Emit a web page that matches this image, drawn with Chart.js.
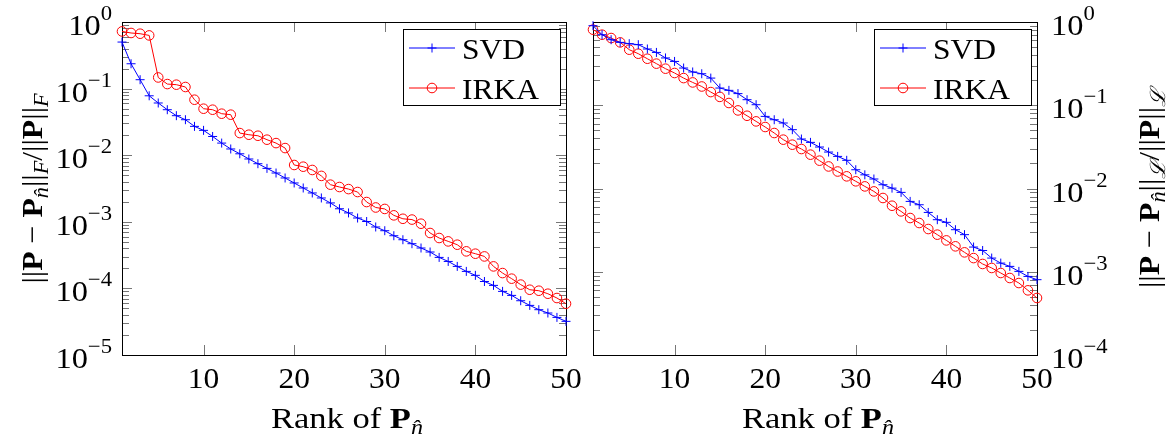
<!DOCTYPE html>
<html>
<head>
<meta charset="utf-8">
<script src="https://cdn.jsdelivr.net/npm/chart.js@4.4.0/dist/chart.umd.min.js"></script>
<style>
html, body { margin: 0; padding: 0; background: #fff; }
#wrap { position: relative; width: 1171px; height: 436px; }
canvas { position: absolute; left: 0; top: 0; }
</style>
</head>
<body>
<div id="wrap">
  <canvas id="leftChart" width="1171" height="436"></canvas>
  <canvas id="rightChart" width="1171" height="436"></canvas>
</div>
<script>
// rank axis (1..50)
const ranks = [1,2,3,4,5,6,7,8,9,10,11,12,13,14,15,16,17,18,19,20,21,22,23,24,25,
  26,27,28,29,30,31,32,33,34,35,36,37,38,39,40,41,42,43,44,45,46,47,48,49,50];

// left plot: relative Frobenius error
const leftSvd = [0.50, 0.236, 0.136, 0.078, 0.0608, 0.0482, 0.0392, 0.0341, 0.0271, 0.0236,
  0.0191, 0.0152, 0.0124, 0.0105, 0.00877, 0.00745, 0.00634, 0.0054, 0.00455, 0.00383,
  0.00322, 0.00271, 0.00228, 0.00192, 0.00157, 0.00136, 0.00114, 0.00101, 0.000836, 0.000735,
  0.000618, 0.000538, 0.000469, 0.000404, 0.000352, 0.000292, 0.000254, 0.000214, 0.00018, 0.000157,
  0.000127, 0.000111, 9.02e-5, 7.85e-5, 6.53e-5, 5.56e-5, 4.79e-5, 4.27e-5, 3.67e-5, 3.2e-5];
const leftIrka = [0.722, 0.684, 0.667, 0.629, 0.147, 0.117, 0.1145, 0.1057, 0.0681, 0.0499,
  0.0482, 0.042, 0.0406, 0.0215, 0.0203, 0.0196, 0.0171, 0.0152, 0.0128, 0.00713,
  0.00672, 0.006, 0.00489, 0.00361, 0.00333, 0.0031, 0.0028, 0.00198, 0.00164, 0.00156,
  0.00125, 0.00111, 0.00108, 0.000936, 0.000679, 0.000571, 0.000508, 0.000453, 0.00036, 0.000332,
  0.000302, 0.000214, 0.00017, 0.00014, 0.000114, 9.55e-5, 9.23e-5, 8.32e-5, 7.17e-5, 5.89e-5];

// right plot: relative L-norm error
const rightSvd = [0.903, 0.704, 0.613, 0.569, 0.549, 0.534, 0.474, 0.431, 0.370, 0.336,
  0.280, 0.251, 0.239, 0.212, 0.161, 0.151, 0.138, 0.1166, 0.1015, 0.0735,
  0.067, 0.0612, 0.0509, 0.0393, 0.0358, 0.0315, 0.0274, 0.0243, 0.0218, 0.0168,
  0.0146, 0.013, 0.0111, 0.0101, 0.00898, 0.007, 0.00638, 0.00516, 0.00422, 0.00392,
  0.0032, 0.00279, 0.00198, 0.0018, 0.00146, 0.00127, 0.00116, 0.00101, 0.000879, 0.000803];
const rightIrka = [0.809, 0.704, 0.642, 0.569, 0.465, 0.416, 0.362, 0.316, 0.275, 0.244,
  0.212, 0.188, 0.168, 0.144, 0.126, 0.1064, 0.0867, 0.0748, 0.064, 0.0548,
  0.0464, 0.0386, 0.0336, 0.0298, 0.0255, 0.0216, 0.0184, 0.016, 0.014, 0.0122,
  0.0106, 0.00923, 0.00769, 0.00621, 0.00531, 0.00442, 0.00385, 0.00326, 0.00279, 0.00238,
  0.00202, 0.00171, 0.00146, 0.00124, 0.00111, 0.000966, 0.000841, 0.000732, 0.000598, 0.000484];

// ticks
const xTicks = [10, 20, 30, 40, 50];
const leftYExp = [0, -1, -2, -3, -4, -5];
const rightYExp = [0, -1, -2, -3, -4];

const FONT = '"Liberation Serif", "DejaVu Serif", serif';
const BLUE = 'rgb(0,0,255)';
const RED = 'rgb(255,0,0)';

function fontStr(size, style) {
  if (style === 'b') return 'bold ' + size + 'px ' + FONT;
  if (style === 'i') return 'italic ' + size + 'px ' + FONT;
  return size + 'px ' + FONT;
}

// draw a row of text pieces (with sub/superscripts); sx stretches horizontally
function drawRich(ctx, segs, x, y, align, sx) {
  sx = sx || 1;
  let total = 0;
  segs.forEach(s => { ctx.font = fontStr(s.size, s.style); total += ctx.measureText(s.t).width; });
  total *= sx;
  let cx = x;
  if (align === 'center') cx = x - total / 2;
  if (align === 'right') cx = x - total;
  ctx.save();
  ctx.translate(cx, y);
  ctx.scale(sx, 1);
  ctx.textAlign = 'left';
  ctx.textBaseline = 'alphabetic';
  let px = 0;
  segs.forEach(s => {
    ctx.font = fontStr(s.size, s.style);
    ctx.fillText(s.t, px, s.dy || 0);
    px += ctx.measureText(s.t).width;
  });
  ctx.restore();
}

function normTitle(sub) {
  const R = 30, S = 21;
  return [
    {t: '||', size: R}, {t: 'P', size: R, style: 'b'}, {t: ' − ', size: R},
    {t: 'P', size: R, style: 'b'}, {t: 'n̂', size: S, style: 'i', dy: 6},
    {t: '||', size: R}, {t: sub, size: S, style: 'i', dy: 6},
    {t: '/', size: R}, {t: '||', size: R}, {t: 'P', size: R, style: 'b'},
    {t: '||', size: R}, {t: sub, size: S, style: 'i', dy: 6}
  ];
}
const rankTitle = [
  {t: 'Rank of ', size: 30}, {t: 'P', size: 30, style: 'b'},
  {t: 'n̂', size: 21, style: 'i', dy: 6}
];

const pgfAxes = {
  id: 'pgfAxes',
  beforeDatasetsDraw(chart, args, o) {
    const {ctx, chartArea: a, scales: {x, y}} = chart;
    ctx.save();
    ctx.strokeStyle = '#777';
    ctx.lineWidth = 1;
    ctx.beginPath();
    // x ticks, bottom and top, pointing inward
    xTicks.forEach(v => {
      const px = Math.round(x.getPixelForValue(v)) + 0.5;
      ctx.moveTo(px, a.bottom); ctx.lineTo(px, a.bottom - 10);
      ctx.moveTo(px, a.top); ctx.lineTo(px, a.top + 10);
    });
    // y ticks, both sides
    o.exps.forEach(e => {
      for (let k = 1; k <= 9; k++) {
        const v = k * Math.pow(10, e);
        if (v > y.max * 1.0001 || v < y.min * 0.9999) continue;
        const py = Math.round(y.getPixelForValue(v)) + 0.5;
        const len = k === 1 ? 10 : 7;
        ctx.moveTo(a.left, py); ctx.lineTo(a.left + len, py);
        ctx.moveTo(a.right, py); ctx.lineTo(a.right - len, py);
      }
    });
    ctx.stroke();
    // frame
    ctx.strokeStyle = '#000';
    ctx.strokeRect(a.left + 0.5, a.top + 0.5, a.right - a.left, a.bottom - a.top);
    ctx.restore();
  },
  afterDraw(chart, args, o) {
    const {ctx, chartArea: a, scales: {x, y}} = chart;
    ctx.save();
    ctx.fillStyle = '#000';
    // x tick labels
    xTicks.forEach(v => drawRich(ctx, [{t: String(v), size: 30}], x.getPixelForValue(v), a.bottom + 33, 'center', 1.05));
    // y tick labels 10^e
    o.exps.forEach(e => {
      const py = y.getPixelForValue(Math.pow(10, e));
      const segs = [{t: '10', size: 30}, {t: e === 0 ? '0' : '−' + (-e), size: 21, dy: -15}];
      if (o.side === 'left') drawRich(ctx, segs, a.left - 10, py + 13, 'right', 1.08);
      else drawRich(ctx, segs, a.right + 14, py + 13, 'left', 1.08);
    });
    // axis titles
    drawRich(ctx, rankTitle, (a.left + a.right) / 2 + 3, a.bottom + 73, 'center', 1.15);
    ctx.save();
    const tx = o.side === 'left' ? 42 : 1159;
    ctx.translate(tx, (a.top + a.bottom) / 2);
    ctx.rotate(-Math.PI / 2);
    drawRich(ctx, normTitle(o.sub), 0, 0, 'center', 1.06);
    ctx.restore();
    // legend box
    const bw = 157, bh = 76;
    const bx = a.right - 6 - bw, by = a.top + 7;
    ctx.fillStyle = '#fff';
    ctx.fillRect(bx, by, bw, bh);
    ctx.strokeStyle = '#000';
    ctx.lineWidth = 1;
    ctx.strokeRect(Math.round(bx) + 0.5, Math.round(by) + 0.5, bw, bh);
    chart.data.datasets.forEach((ds, i) => {
      const ly = by + 19 + i * 40;
      ctx.strokeStyle = ds.borderColor;
      ctx.lineWidth = 1;
      ctx.beginPath();
      ctx.moveTo(bx + 6, ly); ctx.lineTo(bx + 52, ly);
      ctx.stroke();
      const mx = bx + 29;
      ctx.beginPath();
      if (ds.pointStyle === 'cross') {
        ctx.moveTo(mx - 4.5, ly); ctx.lineTo(mx + 4.5, ly);
        ctx.moveTo(mx, ly - 4.5); ctx.lineTo(mx, ly + 4.5);
      } else {
        ctx.arc(mx, ly, 4.8, 0, Math.PI * 2);
      }
      ctx.stroke();
      ctx.fillStyle = '#000';
      drawRich(ctx, [{t: ds.label, size: 30}], bx + 59, ly + 11, 'left', 1.05);
    });
    ctx.restore();
  }
};

function pts(vals) {
  return ranks.map((r, i) => ({x: r, y: vals[i]}));
}

function makeChart(id, svd, irka, yMin, padding, plug) {
  return new Chart(document.getElementById(id).getContext('2d'), {
    type: 'line',
    data: {
      datasets: [{
        label: 'SVD',
        data: pts(svd),
        borderColor: BLUE,
        backgroundColor: BLUE,
        borderWidth: 1,
        pointStyle: 'cross',
        pointRadius: 4.5,
        pointBorderWidth: 1,
        pointBorderColor: BLUE,
        tension: 0,
        clip: false
      }, {
        label: 'IRKA',
        data: pts(irka),
        borderColor: RED,
        backgroundColor: 'rgba(0,0,0,0)',
        borderWidth: 1,
        pointStyle: 'circle',
        pointRadius: 4.8,
        pointBorderWidth: 1,
        pointBorderColor: RED,
        pointBackgroundColor: 'rgba(0,0,0,0)',
        tension: 0,
        clip: false
      }]
    },
    options: {
      responsive: false,
      animation: false,
      devicePixelRatio: 1,
      layout: { padding: padding },
      scales: {
        x: { type: 'linear', min: 1, max: 50, display: false },
        y: { type: 'logarithmic', min: yMin, max: 1, display: false }
      },
      plugins: {
        legend: { display: false },
        tooltip: { enabled: false },
        pgfAxes: plug
      }
    },
    plugins: [pgfAxes]
  });
}

makeChart('leftChart', leftSvd, leftIrka, 1e-5,
  { left: 122, right: 1171 - 566, top: 22, bottom: 436 - 355 },
  { side: 'left', exps: leftYExp, sub: 'F' });
makeChart('rightChart', rightSvd, rightIrka, 1e-4,
  { left: 593, right: 1171 - 1037, top: 22, bottom: 436 - 355 },
  { side: 'right', exps: rightYExp, sub: 'ℒ' });
</script>
</body>
</html>
